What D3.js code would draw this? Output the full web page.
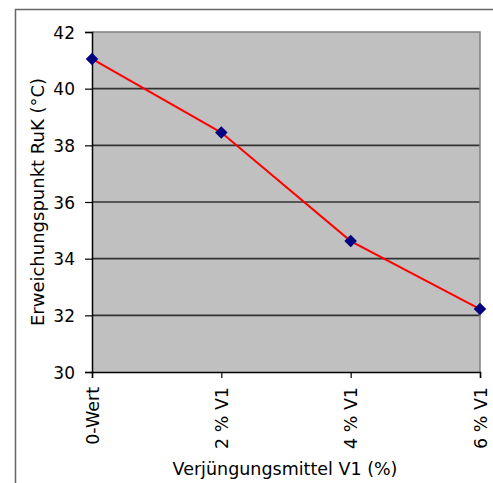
<!DOCTYPE html>
<html>
<head>
<meta charset="utf-8">
<script src="https://cdn.jsdelivr.net/npm/d3@7"></script>
<style>
  html, body { margin: 0; padding: 0; background: #fff; }
  svg { display: block; }
  text { font-family: "DejaVu Sans", sans-serif; fill: #000; }
</style>
</head>
<body>
<script>
// Softening point vs. rejuvenator dosage
const categories = ["0-Wert", "2 % V1", "4 % V1", "6 % V1"];
const values = [41.05, 38.45, 34.62, 32.22];
const yTicks = [30, 32, 34, 36, 38, 40, 42];
const xTitle = "Verjüngungsmittel V1 (%)";
const yTitle = "Erweichungspunkt RuK (°C)";

const W = 493, H = 483;
const plot = { left: 92, top: 32, right: 480, bottom: 372 };
const FONT = "DejaVu Sans, sans-serif";

const svg = d3.select("body").append("svg")
  .attr("width", W).attr("height", H);

// Outer chart frame
svg.append("rect")
  .attr("x", 15.5).attr("y", 9.5)
  .attr("width", W).attr("height", H)
  .attr("fill", "none").attr("stroke", "#666").attr("stroke-width", 1.5);

const x = d3.scalePoint().domain(categories).range([plot.left, plot.right]);
const y = d3.scaleLinear().domain([30, 42]).range([plot.bottom, plot.top]);

// Plot area background
svg.append("rect")
  .attr("x", plot.left).attr("y", plot.top)
  .attr("width", plot.right - plot.left).attr("height", plot.bottom - plot.top)
  .attr("fill", "#c0c0c0");

// Horizontal gridlines
svg.append("g").selectAll("line")
  .data(yTicks.filter(t => t > 30 && t < 42))
  .join("line")
  .attr("x1", plot.left).attr("x2", plot.right)
  .attr("y1", d => y(d)).attr("y2", d => y(d))
  .attr("stroke", "#333").attr("stroke-width", 1.6);

// Top and right border of the plot area
svg.append("path")
  .attr("d", `M${plot.left},${plot.top}H${plot.right}V${plot.bottom}`)
  .attr("fill", "none").attr("stroke", "#808080").attr("stroke-width", 1.5);

// Y axis
const yAxis = svg.append("g")
  .attr("transform", `translate(${plot.left},0)`)
  .call(d3.axisLeft(y).tickValues(yTicks).tickSize(7).tickPadding(10).tickFormat(d3.format("d")));
yAxis.select(".domain").attr("stroke", "#000").attr("stroke-width", 1.5);
yAxis.selectAll(".tick line").attr("stroke", "#000").attr("stroke-width", 1.2);
yAxis.selectAll(".tick text")
  .attr("font-size", 17).attr("font-family", FONT)
  .attr("dy", "0.36em");

// X axis
const xAxis = svg.append("g")
  .attr("transform", `translate(0,${plot.bottom})`)
  .call(d3.axisBottom(x).tickSize(6).tickPadding(0));
xAxis.select(".domain").attr("stroke", "#000").attr("stroke-width", 1.5);
xAxis.selectAll(".tick line").attr("stroke", "#000").attr("stroke-width", 1.2);
xAxis.selectAll(".tick text")
  .attr("font-size", 17.5).attr("font-family", FONT)
  .attr("text-anchor", "end")
  .attr("y", 0).attr("dy", null)
  .attr("transform", "translate(6,15) rotate(-90)");

// Data line
svg.append("path")
  .datum(values)
  .attr("d", d3.line().x((d, i) => x(categories[i])).y(d => y(d)))
  .attr("fill", "none").attr("stroke", "#ff0000").attr("stroke-width", 2);

// Diamond markers
svg.append("g").selectAll("path")
  .data(values)
  .join("path")
  .attr("d", d3.symbol().type(d3.symbolDiamond2).size(100))
  .attr("transform", (d, i) => `translate(${x(categories[i])},${y(d)})`)
  .attr("fill", "#000080");

// Axis titles
svg.append("text")
  .attr("x", 285).attr("y", 475)
  .attr("text-anchor", "middle").attr("font-size", 17.5).attr("font-family", FONT)
  .text(xTitle);

svg.append("text")
  .attr("transform", `translate(44,${(plot.top + plot.bottom) / 2}) rotate(-90)`)
  .attr("text-anchor", "middle").attr("font-size", 18).attr("font-family", FONT)
  .text(yTitle);
</script>
</body>
</html>
